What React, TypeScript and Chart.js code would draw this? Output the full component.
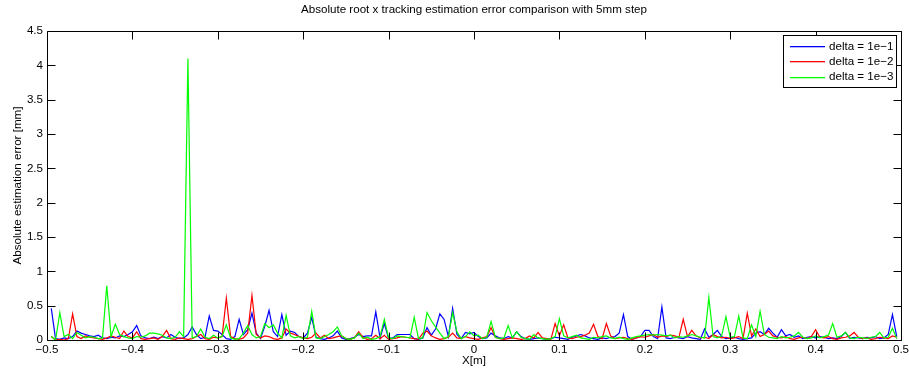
import React, { useEffect, useRef } from "react";
import { Chart, registerables } from "chart.js";

Chart.register(...registerables);

// Sampling grid: 5 mm step
const xStart = -0.495;
const xStep = 0.005;

const blueValues = [
  0.46, 0.02, 0.01, 0.03, 0.02, 0.05, 0.13, 0.10, 0.08, 0.06,
  0.05, 0.07, 0.03, 0.02, 0.04, 0.03, 0.06, 0.05, 0.08, 0.12,
  0.21, 0.06, 0.03, 0.02, 0.04, 0.02, 0.05, 0.03, 0.08, 0.04,
  0.02, 0.03, 0.08, 0.19, 0.08, 0.02, 0.04, 0.35, 0.14, 0.13,
  0.08, 0.02, 0.01, 0.05, 0.30, 0.08, 0.15, 0.39, 0.10, 0.02,
  0.20, 0.43, 0.12, 0.05, 0.37, 0.07, 0.13, 0.11, 0.05, 0.03,
  0.10, 0.33, 0.04, 0.02, 0.01, 0.03, 0.06, 0.13, 0.03, 0.01,
  0.02, 0.04, 0.08, 0.05, 0.06, 0.06, 0.41, 0.03, 0.24, 0.02,
  0.03, 0.08, 0.08, 0.08, 0.08, 0.02, 0.01, 0.03, 0.18, 0.07,
  0.16, 0.38, 0.30, 0.05, 0.46, 0.08, 0.02, 0.11, 0.09, 0.11,
  0.05, 0.02, 0.03, 0.10, 0.06, 0.03, 0.02, 0.05, 0.03, 0.12,
  0.05, 0.02, 0.01, 0.02, 0.03, 0.02, 0.01, 0.02, 0.04, 0.03,
  0.02, 0.01, 0.04, 0.06, 0.08, 0.06, 0.03, 0.02, 0.01, 0.03,
  0.02, 0.04, 0.05, 0.10, 0.37, 0.05, 0.01, 0.03, 0.05, 0.14,
  0.14, 0.05, 0.02, 0.48, 0.03, 0.02, 0.04, 0.03, 0.02, 0.05,
  0.03, 0.02, 0.01, 0.16, 0.04, 0.08, 0.14, 0.05, 0.02, 0.03,
  0.04, 0.02, 0.01, 0.02, 0.03, 0.10, 0.12, 0.08, 0.17, 0.10,
  0.04, 0.15, 0.06, 0.08, 0.04, 0.06, 0.02, 0.04, 0.05, 0.03,
  0.05, 0.04, 0.02, 0.03, 0.02, 0.05, 0.11, 0.02, 0.04, 0.03,
  0.02, 0.04, 0.03, 0.05, 0.02, 0.03, 0.08, 0.37, 0.05,
];

const redValues = [
  0.05, 0.00, 0.01, 0.00, 0.02, 0.38, 0.05, 0.02, 0.06, 0.04,
  0.03, 0.02, 0.01, 0.03, 0.06, 0.04, 0.02, 0.13, 0.05, 0.03,
  0.12, 0.02, 0.01, 0.02, 0.03, 0.01, 0.05, 0.14, 0.02, 0.01,
  0.03, 0.02, 0.01, 0.02, 0.05, 0.08, 0.02, 0.01, 0.04, 0.03,
  0.05, 0.61, 0.05, 0.02, 0.01, 0.03, 0.10, 0.65, 0.08, 0.03,
  0.06, 0.05, 0.02, 0.01, 0.03, 0.16, 0.10, 0.08, 0.05, 0.03,
  0.02, 0.04, 0.10, 0.03, 0.07, 0.02, 0.03, 0.05, 0.06, 0.02,
  0.01, 0.03, 0.12, 0.04, 0.01, 0.02, 0.07, 0.02, 0.07, 0.01,
  0.02, 0.03, 0.05, 0.04, 0.03, 0.02, 0.01, 0.10, 0.13, 0.06,
  0.03, 0.01, 0.02, 0.04, 0.10, 0.03, 0.02, 0.05, 0.03, 0.02,
  0.01, 0.03, 0.05, 0.18, 0.04, 0.02, 0.01, 0.02, 0.03, 0.02,
  0.01, 0.02, 0.06, 0.03, 0.11, 0.03, 0.02, 0.01, 0.24, 0.06,
  0.22, 0.03, 0.02, 0.04, 0.05, 0.07, 0.10, 0.23, 0.05, 0.02,
  0.24, 0.06, 0.02, 0.03, 0.04, 0.02, 0.01, 0.03, 0.05, 0.04,
  0.06, 0.08, 0.04, 0.06, 0.05, 0.07, 0.06, 0.04, 0.30, 0.05,
  0.14, 0.06, 0.03, 0.04, 0.02, 0.08, 0.05, 0.03, 0.04, 0.02,
  0.03, 0.05, 0.02, 0.39, 0.06, 0.16, 0.05, 0.08, 0.13, 0.06,
  0.04, 0.03, 0.05, 0.02, 0.01, 0.03, 0.04, 0.02, 0.05, 0.15,
  0.04, 0.03, 0.05, 0.02, 0.01, 0.03, 0.04, 0.06, 0.11, 0.04,
  0.02, 0.03, 0.01, 0.02, 0.04, 0.03, 0.02, 0.06, 0.04,
];

const greenValues = [
  0.05, 0.00, 0.40, 0.05, 0.08, 0.02, 0.11, 0.07, 0.03, 0.05,
  0.04, 0.02, 0.03, 0.79, 0.05, 0.23, 0.08, 0.05, 0.03, 0.02,
  0.05, 0.04, 0.06, 0.10, 0.10, 0.09, 0.07, 0.03, 0.02, 0.04,
  0.12, 0.05, 4.10, 0.03, 0.05, 0.16, 0.04, 0.02, 0.07, 0.03,
  0.05, 0.22, 0.03, 0.01, 0.02, 0.10, 0.21, 0.08, 0.03, 0.05,
  0.24, 0.18, 0.22, 0.10, 0.03, 0.36, 0.06, 0.03, 0.05, 0.02,
  0.04, 0.42, 0.03, 0.02, 0.05, 0.08, 0.12, 0.19, 0.06, 0.02,
  0.01, 0.03, 0.10, 0.02, 0.04, 0.01, 0.02, 0.05, 0.30, 0.03,
  0.02, 0.06, 0.05, 0.04, 0.03, 0.33, 0.02, 0.03, 0.40, 0.28,
  0.19, 0.10, 0.02, 0.05, 0.40, 0.12, 0.02, 0.05, 0.12, 0.06,
  0.07, 0.02, 0.04, 0.27, 0.04, 0.02, 0.03, 0.21, 0.03, 0.12,
  0.04, 0.02, 0.01, 0.08, 0.03, 0.02, 0.01, 0.02, 0.05, 0.31,
  0.06, 0.03, 0.05, 0.07, 0.03, 0.02, 0.01, 0.04, 0.03, 0.05,
  0.06, 0.03, 0.02, 0.04, 0.02, 0.01, 0.03, 0.05, 0.06, 0.07,
  0.08, 0.07, 0.08, 0.07, 0.06, 0.07, 0.03, 0.05, 0.04, 0.06,
  0.08, 0.06, 0.04, 0.03, 0.62, 0.05, 0.03, 0.06, 0.34, 0.04,
  0.05, 0.35, 0.03, 0.02, 0.22, 0.05, 0.42, 0.08, 0.04, 0.03,
  0.02, 0.05, 0.03, 0.04, 0.06, 0.11, 0.04, 0.02, 0.03, 0.06,
  0.03, 0.05, 0.07, 0.24, 0.04, 0.06, 0.11, 0.03, 0.02, 0.04,
  0.03, 0.02, 0.04, 0.05, 0.11, 0.03, 0.04, 0.17, 0.02,
];

const seriesLabels = ["delta = 1e\u22121", "delta = 1e\u22122", "delta = 1e\u22123"];
const seriesColors = ["#0000ff", "#ff0000", "#00ff00"];

const xTickValues = [-0.5, -0.4, -0.3, -0.2, -0.1, 0, 0.1, 0.2, 0.3, 0.4, 0.5];
const xTickLabels = ["\u22120.5", "\u22120.4", "\u22120.3", "\u22120.2", "\u22120.1", "0", "0.1", "0.2", "0.3", "0.4", "0.5"];
const yTickValues = [0, 0.5, 1, 1.5, 2, 2.5, 3, 3.5, 4, 4.5];
const yTickLabels = ["0", "0.5", "1", "1.5", "2", "2.5", "3", "3.5", "4", "4.5"];

const titleText = "Absolute root x tracking estimation error comparison with 5mm step";
const xAxisTitle = "X[m]";
const yAxisTitle = "Absolute estimation error [mm]";

const FONT = '11.6px "Liberation Sans", Arial, Helvetica, sans-serif';

function toPoints(values: number[]) {
  return values.map((v, i) => ({ x: Math.round((xStart + xStep * i) * 1000) / 1000, y: v }));
}

const matlabPlugin = {
  id: "matlabFrame",
  afterDatasetsDraw(chart: any) {
    const { ctx, chartArea: a, scales } = chart;
    const xs = scales.x;
    const ys = scales.y;
    const tl = 8;
    ctx.save();
    ctx.strokeStyle = "#000";
    ctx.lineWidth = 1;
    const L = Math.round(a.left) + 0.5;
    const R = Math.round(a.right) + 0.5;
    const T = Math.round(a.top) + 0.5;
    const B = Math.round(a.bottom) + 0.5;
    ctx.beginPath();
    ctx.rect(L, T, R - L, B - T);
    ctx.stroke();

    ctx.beginPath();
    xTickValues.forEach((v) => {
      const px = Math.round(xs.getPixelForValue(v)) + 0.5;
      ctx.moveTo(px, B);
      ctx.lineTo(px, B - tl);
      ctx.moveTo(px, T);
      ctx.lineTo(px, T + tl);
    });
    yTickValues.forEach((v) => {
      const py = Math.round(ys.getPixelForValue(v)) + 0.5;
      ctx.moveTo(L, py);
      ctx.lineTo(L + tl, py);
      ctx.moveTo(R, py);
      ctx.lineTo(R - tl, py);
    });
    ctx.stroke();

    ctx.fillStyle = "#000";
    ctx.font = FONT;
    ctx.textAlign = "center";
    ctx.textBaseline = "middle";
    xTickValues.forEach((v, i) => {
      ctx.fillText(xTickLabels[i], xs.getPixelForValue(v), a.bottom + 10);
    });
    ctx.textAlign = "right";
    yTickValues.forEach((v, i) => {
      ctx.fillText(yTickLabels[i], a.left - 4, ys.getPixelForValue(v));
    });

    // title and axis titles
    const cx = (a.left + a.right) / 2;
    ctx.textAlign = "center";
    ctx.fillText(titleText, cx, 9.5);
    ctx.fillText(xAxisTitle, cx, a.bottom + 21);
    ctx.save();
    ctx.translate(18, (a.top + a.bottom) / 2);
    ctx.rotate(-Math.PI / 2);
    ctx.fillText(yAxisTitle, 0, 0);
    ctx.restore();

    // legend
    const lx = 783.5, ly = 35.5, lw = 113, lh = 52;
    ctx.fillStyle = "#ffffff";
    ctx.fillRect(lx, ly, lw, lh);
    ctx.strokeStyle = "#000000";
    ctx.lineWidth = 1;
    ctx.strokeRect(lx, ly, lw, lh);
    seriesLabels.forEach((label, i) => {
      const y = 46 + i * 15.3;
      ctx.fillStyle = seriesColors[i];
      ctx.fillRect(790, Math.round(y), 35, 1.3);
      ctx.fillStyle = "#000000";
      ctx.textAlign = "left";
      ctx.fillText(label, 829, y + 0.5);
    });
    ctx.restore();
  },
};

export default function App() {
  const ref = useRef<HTMLCanvasElement | null>(null);
  useEffect(() => {
    document.body.style.margin = "0";
    const canvas = ref.current;
    if (!canvas) return;
    const seriesValues = [blueValues, redValues, greenValues];
    const chart = new Chart(canvas, {
      type: "line",
      data: {
        datasets: seriesValues.map((vals, i) => ({
          label: seriesLabels[i],
          data: toPoints(vals),
          borderColor: seriesColors[i],
          backgroundColor: seriesColors[i],
          borderWidth: 1.2,
          pointRadius: 0,
          tension: 0,
          fill: false,
          order: 2 - i,
        })),
      },
      options: {
        responsive: false,
        animation: false,
        devicePixelRatio: 1,
        layout: { padding: { left: 47, top: 31, right: 8, bottom: 31 } },
        scales: {
          x: { type: "linear", display: false, min: -0.5, max: 0.5 },
          y: { type: "linear", display: false, min: 0, max: 4.5 },
        },
        plugins: {
          legend: { display: false },
          title: { display: false },
          tooltip: { enabled: false },
        },
      },
      plugins: [matlabPlugin],
    });
    return () => chart.destroy();
  }, []);
  return <canvas ref={ref} width={909} height={371} style={{ display: "block" }} />;
}
